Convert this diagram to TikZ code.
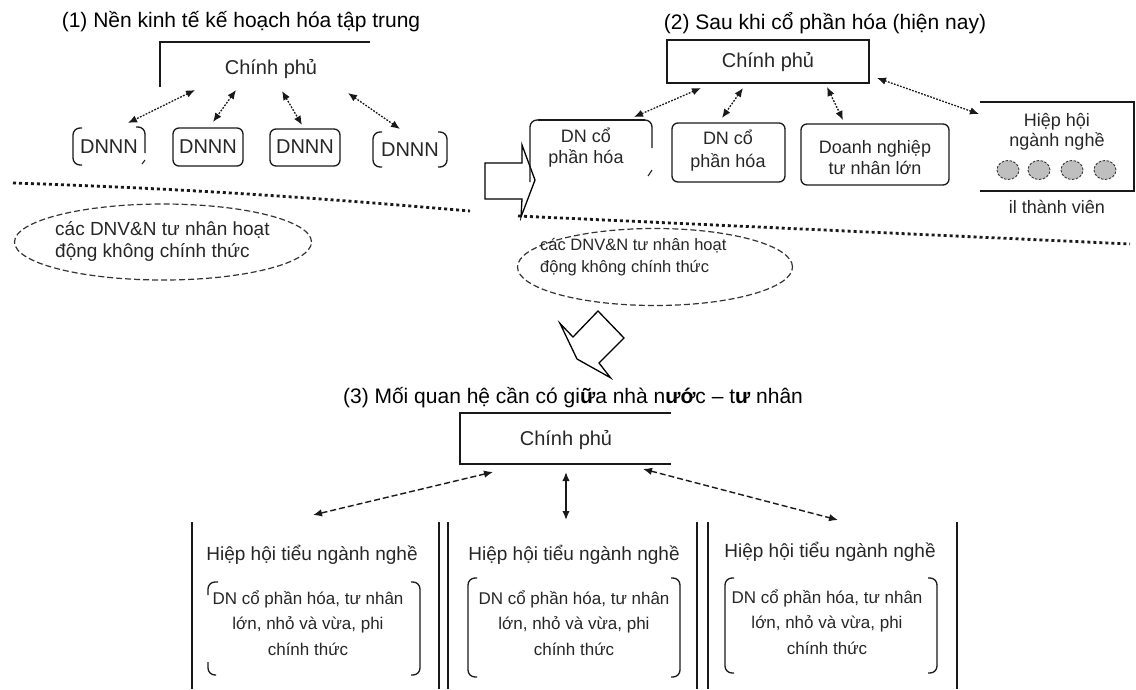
\documentclass[tikz,border=0pt]{standalone}
\usepackage{fontspec}
\setmainfont{Liberation Sans}
\usetikzlibrary{arrows.meta,shapes.geometric}
\begin{document}
\begin{tikzpicture}[x=1pt,y=-1pt,
  ln/.style={draw=black!90, line width=1.3pt},
  thin/.style={draw=black!85, line width=1.1pt},
  ttl/.style={font=\fontsize{21}{24}\selectfont, inner sep=0pt},
  txt/.style={font=\fontsize{19}{22}\selectfont, inner sep=0pt, text=black!85},
  sm/.style={font=\fontsize{18}{21}\selectfont, inner sep=0pt, text=black!85, align=center},
  col/.style={font=\fontsize{17}{25.5}\selectfont, inner sep=0pt, text=black!85, align=center},
  dotarr/.style={draw=black!90, line width=1.3pt, dash pattern=on 1.8pt off 1.4pt,
     {Latex[length=9pt,width=7.5pt]}-{Latex[length=9pt,width=7.5pt]}},
  dasharr/.style={draw=black!90, line width=1.4pt, dash pattern=on 6pt off 3pt,
     {Latex[length=9pt,width=7.5pt]}-{Latex[length=9pt,width=7.5pt]}},
  solarr/.style={draw=black!90, line width=1.6pt,
     {Latex[length=9pt,width=7.5pt]}-{Latex[length=9pt,width=7.5pt]}},
  sep/.style={draw=black!90, line width=2.8pt, dash pattern=on 3pt off 3pt},
  ell/.style={draw=black!80, line width=1.2pt, dash pattern=on 6pt off 3pt, ellipse, inner sep=0pt},
  dot/.style={draw=black!80, line width=0.9pt, dash pattern=on 2.5pt off 1.5pt, fill=black!25, ellipse, minimum width=22pt, minimum height=19pt, inner sep=0pt},
  rbox/.style={draw=black!90, line width=1.3pt, rounded corners=6pt},
  brk/.style={draw=black!90, line width=1.3pt, rounded corners=7pt}
]
\useasboundingbox (0,0) rectangle (1136,689);

%% ---------- Panel 1 ----------
\node[ttl] (t1) at (241,22) {(1) Nền kinh tế kế hoạch hóa tập trung};
\draw[ln] (160,87) -- (160,42) -- (370,42);
\node[txt, font=\fontsize{20}{22}\selectfont] (cp1) at (271,69) {Chính phủ};

\node[txt, font=\fontsize{20}{22}\selectfont] (d1) at (109,147) {DNNN};
\node[txt, font=\fontsize{20}{22}\selectfont] (d2) at (208,147) {DNNN};
\node[txt, font=\fontsize{20}{22}\selectfont] (d3) at (305,147) {DNNN};
\node[txt, font=\fontsize{20}{22}\selectfont] (d4) at (410,150) {DNNN};
% box outlines
\draw[brk] (82,128) -- (73,128) -- (73,165) -- (82,165);
\draw[brk] (136,127) -- (145,127) -- (145,153);
\draw[thin] (145,160) -- (142,164);
\draw[rbox] (173,128) rectangle (243,166);
\draw[rbox] (270,129) rectangle (340,166);
\draw[brk] (382,132) -- (373,132) -- (373,167) -- (382,167);
\draw[brk] (438,132) -- (447,132) -- (447,167) -- (438,167);

\coordinate (a1s) at (195,90); \coordinate (a1e) at (128,123);
\coordinate (a2s) at (236,90); \coordinate (a2e) at (213,122);
\coordinate (a3s) at (282,91); \coordinate (a3e) at (302,125);
\coordinate (a4s) at (348,93); \coordinate (a4e) at (400,129);
\draw[dotarr] (a1s) -- (a1e);
\draw[dotarr] (a2s) -- (a2e);
\draw[dotarr] (a3s) -- (a3e);
\draw[dotarr] (a4s) -- (a4e);

\draw[sep] (13,183) .. controls (200,189) and (330,199) .. (470,211);

\node[ell, minimum width=297pt, minimum height=76pt] (e1) at (163,242) {};
\node[txt, align=left, anchor=west] (e1t) at (55,241) {các DNV\&N tư nhân hoạt\\động không chính thức};

%% ---------- block arrow 1 ----------
\draw[line width=1.3pt, draw=black, fill=white, line join=miter]
  (485,163) -- (522,163) -- (522,145) -- (535,180) -- (521,217) -- (522,199) -- (485,199) -- cycle;

%% ---------- Panel 2 ----------
\node[ttl] (t2) at (825,23) {(2) Sau khi cổ phần hóa (hiện nay)};
\node[draw=black!90, line width=1.5pt, minimum width=202pt, minimum height=43pt, inner sep=0pt] (cp2) at (768,61.5) {};
\node[txt, font=\fontsize{20}{22}\selectfont] (cp2t) at (768,62) {Chính phủ};

\draw[brk] (645,120) -- (652,120) -- (652,148);
\draw[brk] (538,120) -- (645,120);
\draw[brk] (540,120) -- (530,120) -- (530,182);
\draw[thin] (652,170) -- (648,176);
\node[sm] (b1) at (586,148) {DN cổ\\phần hóa};

\node[rbox, minimum width=113pt, minimum height=59pt, inner sep=0pt] (b2) at (728.5,152.5) {};
\node[sm, font=\fontsize{18}{23}\selectfont] (b2t) at (728,151) {DN cổ\\phần hóa};

\node[rbox, minimum width=148pt, minimum height=61pt, inner sep=0pt] (b3) at (875,154.5) {};
\node[sm, font=\fontsize{18}{21}\selectfont] (b3t) at (875,158) {Doanh nghiệp\\tư nhân lớn};

\draw[ln] (980,102) -- (1134,102) -- (1134,191) -- (980,191);
\node[sm, font=\fontsize{18}{20}\selectfont] (hh) at (1057,132) {Hiệp hội\\ngành nghề};
\node[dot] (c1) at (1008,170) {};
\node[dot] (c2) at (1039,170) {};
\node[dot] (c3) at (1072,170) {};
\node[dot] (c4) at (1105,170) {};
\node[sm] (tv) at (1057,207) {il thành viên};

\coordinate (p1s) at (701,88); \coordinate (p1e) at (634,117);
\coordinate (p2s) at (743,88); \coordinate (p2e) at (722,118);
\coordinate (p3s) at (827,87); \coordinate (p3e) at (843,120);
\coordinate (p4s) at (877,78); \coordinate (p4e) at (979,114);
\draw[dotarr] (p1s) -- (p1e);
\draw[dotarr] (p2s) -- (p2e);
\draw[dotarr] (p3s) -- (p3e);
\draw[dotarr] (p4s) -- (p4e);

\draw[sep] (518,216) -- (1130,244);

\node[ell, minimum width=275pt, minimum height=77pt] (e2) at (655,267) {};
\node[txt, font=\fontsize{16.5}{22}\selectfont, align=left, anchor=west] (e2t) at (540,257) {các DNV\&N tư nhân hoạt\\động không chính thức};

%% ---------- block arrow 2 ----------
\draw[line width=1.3pt, draw=black, fill=white, line join=miter]
  (598,311) -- (624,338) -- (599,363) -- (610.6,377.8) -- (577,359) -- (560,323.4) -- (573,337) -- cycle;

%% ---------- Panel 3 ----------
\node[ttl] (t3) at (573,398) {(3) Mối quan hệ cần có gi\textbf{ữ}a nhà n\textbf{ướ}c – t\textbf{ư} nhân};
\draw[ln] (671,413) -- (460,413) -- (460,464) -- (671,464);
\node[txt, font=\fontsize{20}{22}\selectfont] (cp3) at (566,440) {Chính phủ};

\coordinate (q1s) at (493,472); \coordinate (q1e) at (313,515);
\coordinate (q2s) at (566,472); \coordinate (q2e) at (566,520);
\coordinate (q3s) at (643,469); \coordinate (q3e) at (838,520);
\draw[dasharr] (q1s) -- (q1e);
\draw[solarr] (q2s) -- (q2e);
\draw[dasharr] (q3s) -- (q3e);

\draw[ln] (192,522) -- (192,689);
\draw[ln] (439,522) -- (439,689);
\draw[ln] (448,522) -- (448,689);
\draw[ln] (697,522) -- (697,689);
\draw[ln] (708,522) -- (708,689);
\draw[ln] (957,522) -- (957,689);

\node[sm, font=\fontsize{19}{22}\selectfont] (h1) at (312,555) {Hiệp hội tiểu ngành nghề};
\node[sm, font=\fontsize{19}{22}\selectfont] (h2) at (574,555) {Hiệp hội tiểu ngành nghề};
\node[sm, font=\fontsize{19}{22}\selectfont] (h3) at (830,552) {Hiệp hội tiểu ngành nghề};

\node[col] (g1) at (308,623) {DN cổ phần hóa, tư nhân\\lớn, nhỏ và vừa, phi\\chính thức};
\node[col] (g2) at (574,623) {DN cổ phần hóa, tư nhân\\lớn, nhỏ và vừa, phi\\chính thức};
\node[col] (g3) at (827,622) {DN cổ phần hóa, tư nhân\\lớn, nhỏ và vừa, phi\\chính thức};

% brackets col 1
\draw[brk] (218,582) -- (208,582) -- (208,595);
\draw[brk] (208,662) -- (208,675) -- (216,675);
\draw[brk] (411,582) -- (420,582) -- (420,675) -- (411,675);
% col 2
\draw[brk] (477,578) -- (468,578) -- (468,677) -- (477,677);
\draw[brk] (671,578) -- (680,578) -- (680,677) -- (671,677);
% col 3
\draw[brk] (734,578) -- (725,578) -- (725,673) -- (734,673);
\draw[brk] (928,578) -- (937,578) -- (937,673) -- (928,673);
\end{tikzpicture}
\end{document}
